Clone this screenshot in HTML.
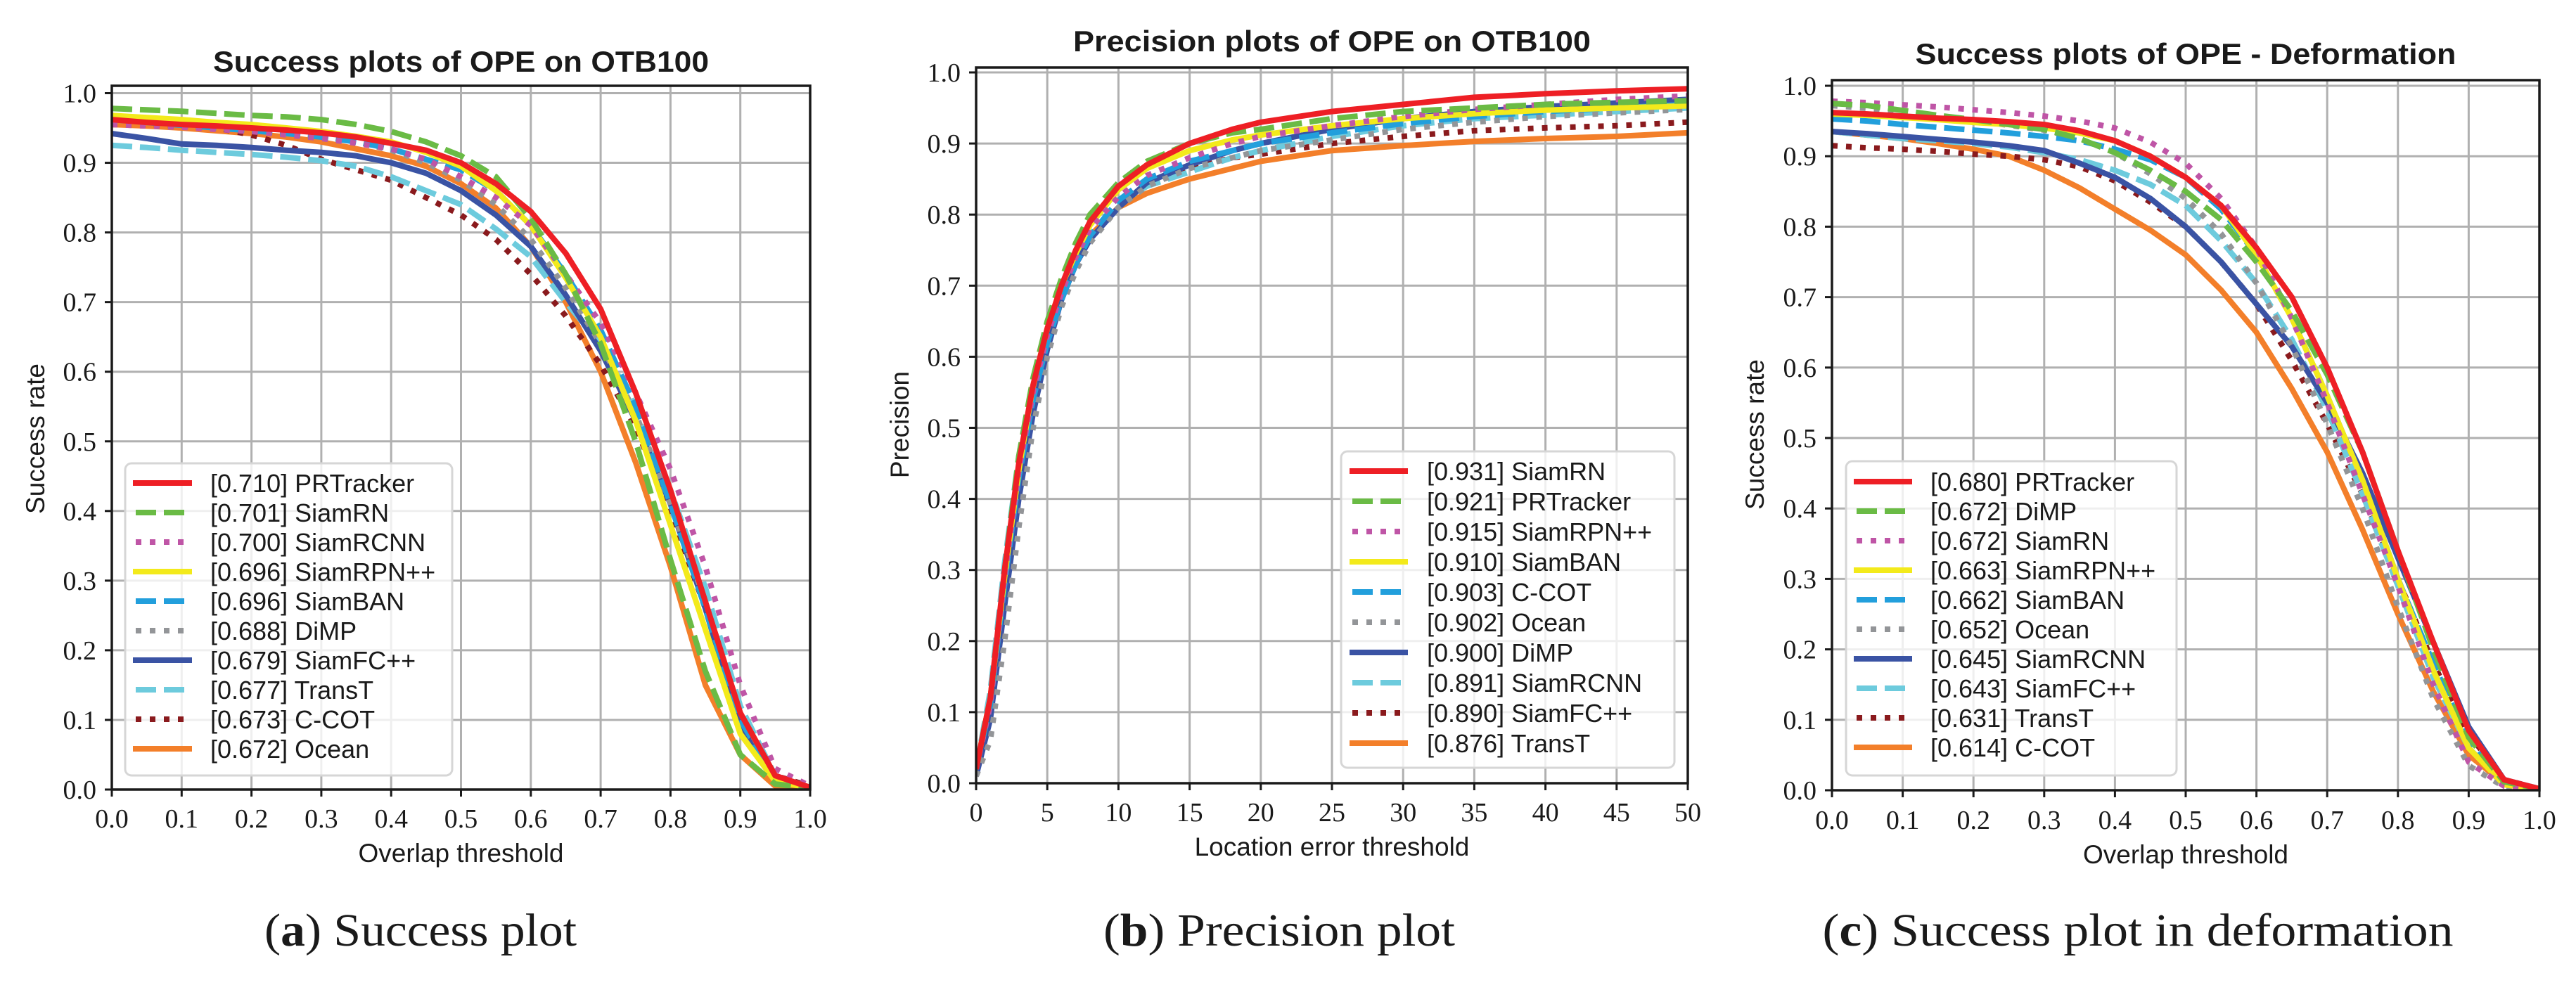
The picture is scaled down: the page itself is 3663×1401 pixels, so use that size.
<!DOCTYPE html>
<html><head><meta charset="utf-8">
<style>
html,body{margin:0;padding:0;background:#fff;}
svg{display:block;}
.t{font-family:"Liberation Sans",sans-serif;fill:#1a1a1a;}
.s{font-family:"Liberation Serif",serif;fill:#1a1a1a;}
</style></head>
<body>
<svg id="chart" width="3663" height="1401" viewBox="0 0 3663 1401" xmlns="http://www.w3.org/2000/svg"></svg>
<script>
// ---------- data ----------
const xSucc = [0,0.05,0.1,0.15,0.2,0.25,0.3,0.35,0.4,0.45,0.5,0.55,0.6,0.65,0.7,0.75,0.8,0.85,0.9,0.95,1.0];
const xPrec = [0,1,2,3,4,5,6,7,8,10,12,15,18,20,25,30,35,40,45,50];

const namesA = ["[0.710] PRTracker","[0.701] SiamRN","[0.700] SiamRCNN","[0.696] SiamRPN++","[0.696] SiamBAN","[0.688] DiMP","[0.679] SiamFC++","[0.677] TransT","[0.673] C-COT","[0.672] Ocean"];
const a0 = [0.962,0.958,0.955,0.953,0.950,0.947,0.943,0.937,0.928,0.918,0.900,0.870,0.830,0.770,0.690,0.570,0.430,0.270,0.110,0.020,0.003];
const a1 = [0.978,0.976,0.974,0.971,0.968,0.966,0.962,0.955,0.945,0.930,0.910,0.880,0.820,0.740,0.640,0.500,0.330,0.170,0.050,0.008,0.002];
const a2 = [0.955,0.953,0.951,0.948,0.945,0.940,0.935,0.928,0.920,0.905,0.880,0.850,0.810,0.740,0.670,0.570,0.460,0.320,0.150,0.030,0.005];
const a3 = [0.968,0.965,0.962,0.958,0.955,0.950,0.945,0.938,0.930,0.915,0.895,0.860,0.810,0.735,0.650,0.530,0.380,0.230,0.080,0.012,0.002];
const a4 = [0.962,0.958,0.954,0.950,0.946,0.942,0.937,0.930,0.920,0.905,0.890,0.860,0.810,0.740,0.660,0.550,0.410,0.260,0.100,0.015,0.002];
const a5 = [0.965,0.962,0.958,0.954,0.950,0.945,0.938,0.930,0.918,0.900,0.875,0.840,0.790,0.720,0.640,0.540,0.410,0.270,0.110,0.018,0.003];
const a6 = [0.942,0.935,0.927,0.925,0.922,0.918,0.915,0.910,0.900,0.885,0.860,0.825,0.780,0.710,0.630,0.530,0.410,0.260,0.090,0.012,0.002];
const a7 = [0.925,0.922,0.918,0.915,0.912,0.908,0.903,0.895,0.880,0.860,0.840,0.805,0.765,0.700,0.640,0.550,0.430,0.290,0.120,0.020,0.003];
const a8 = [0.955,0.955,0.953,0.950,0.940,0.925,0.905,0.890,0.875,0.850,0.825,0.790,0.740,0.680,0.610,0.520,0.400,0.260,0.100,0.020,0.005];
const a9 = [0.955,0.953,0.950,0.946,0.942,0.937,0.930,0.920,0.910,0.895,0.870,0.835,0.780,0.700,0.600,0.470,0.320,0.150,0.050,0.005,0.002];

const namesB = ["[0.931] SiamRN","[0.921] PRTracker","[0.915] SiamRPN++","[0.910] SiamBAN","[0.903] C-COT","[0.902] Ocean","[0.900] DiMP","[0.891] SiamRCNN","[0.890] SiamFC++","[0.876] TransT"];
const b0 = [0.02,0.12,0.30,0.45,0.56,0.64,0.70,0.75,0.79,0.84,0.87,0.90,0.92,0.93,0.945,0.955,0.965,0.970,0.974,0.977];
const b1 = [0.02,0.12,0.30,0.46,0.57,0.65,0.71,0.76,0.80,0.845,0.875,0.90,0.915,0.92,0.935,0.945,0.950,0.955,0.958,0.960];
const b2 = [0.02,0.11,0.29,0.44,0.55,0.63,0.69,0.74,0.78,0.825,0.855,0.88,0.90,0.91,0.925,0.938,0.948,0.955,0.962,0.967];
const b3 = [0.02,0.12,0.29,0.44,0.56,0.64,0.70,0.745,0.785,0.835,0.865,0.89,0.905,0.912,0.925,0.935,0.942,0.947,0.950,0.953];
const b4 = [0.02,0.11,0.28,0.43,0.54,0.62,0.68,0.73,0.77,0.82,0.85,0.875,0.89,0.90,0.915,0.928,0.938,0.945,0.950,0.955];
const b5 = [0.01,0.06,0.20,0.36,0.50,0.60,0.67,0.72,0.76,0.81,0.84,0.865,0.88,0.89,0.905,0.92,0.93,0.938,0.943,0.948];
const b6 = [0.01,0.09,0.25,0.40,0.52,0.61,0.68,0.73,0.765,0.81,0.845,0.87,0.89,0.90,0.92,0.935,0.945,0.952,0.957,0.962];
const b7 = [0.02,0.13,0.31,0.46,0.56,0.635,0.69,0.735,0.77,0.815,0.84,0.86,0.88,0.89,0.91,0.925,0.935,0.940,0.945,0.950];
const b8 = [0.02,0.11,0.28,0.43,0.54,0.62,0.68,0.73,0.77,0.815,0.845,0.865,0.88,0.885,0.90,0.91,0.918,0.922,0.925,0.930];
const b9 = [0.02,0.12,0.29,0.44,0.55,0.63,0.69,0.735,0.77,0.81,0.83,0.85,0.865,0.875,0.89,0.897,0.903,0.907,0.910,0.915];

const namesC = ["[0.680] PRTracker","[0.672] DiMP","[0.672] SiamRN","[0.663] SiamRPN++","[0.662] SiamBAN","[0.652] Ocean","[0.645] SiamRCNN","[0.643] SiamFC++","[0.631] TransT","[0.614] C-COT"];
const c0 = [0.962,0.960,0.957,0.954,0.952,0.949,0.945,0.936,0.922,0.900,0.870,0.830,0.770,0.700,0.600,0.480,0.340,0.210,0.085,0.015,0.002];
const c1 = [0.975,0.972,0.965,0.958,0.952,0.945,0.938,0.925,0.905,0.880,0.850,0.810,0.750,0.680,0.590,0.480,0.340,0.200,0.075,0.012,0.002];
const c2 = [0.978,0.976,0.973,0.970,0.966,0.962,0.957,0.950,0.940,0.920,0.890,0.840,0.770,0.670,0.550,0.420,0.290,0.150,0.040,0.006,0.001];
const c3 = [0.960,0.958,0.955,0.952,0.948,0.945,0.940,0.933,0.922,0.900,0.870,0.830,0.760,0.670,0.560,0.440,0.300,0.170,0.060,0.008,0.001];
const c4 = [0.953,0.950,0.945,0.941,0.937,0.933,0.928,0.922,0.910,0.895,0.870,0.825,0.760,0.670,0.560,0.440,0.300,0.180,0.070,0.010,0.001];
const c5 = [0.972,0.968,0.962,0.956,0.950,0.944,0.937,0.925,0.905,0.875,0.840,0.790,0.720,0.630,0.520,0.400,0.260,0.130,0.035,0.005,0.001];
const c6 = [0.935,0.932,0.928,0.924,0.920,0.915,0.908,0.890,0.870,0.840,0.800,0.750,0.690,0.630,0.550,0.450,0.330,0.210,0.090,0.015,0.002];
const c7 = [0.935,0.930,0.925,0.922,0.918,0.913,0.905,0.895,0.880,0.860,0.830,0.780,0.720,0.640,0.540,0.420,0.290,0.160,0.060,0.010,0.001];
const c8 = [0.915,0.912,0.910,0.907,0.903,0.900,0.895,0.885,0.865,0.835,0.800,0.750,0.690,0.610,0.520,0.420,0.300,0.180,0.080,0.015,0.002];
const c9 = [0.935,0.930,0.925,0.918,0.910,0.900,0.880,0.855,0.825,0.795,0.760,0.710,0.650,0.570,0.480,0.370,0.250,0.140,0.050,0.010,0.002];

const yTicks = [0,0.1,0.2,0.3,0.4,0.5,0.6,0.7,0.8,0.9,1.0];
const xTicksSucc = [0,0.1,0.2,0.3,0.4,0.5,0.6,0.7,0.8,0.9,1.0];
const xTicksPrec = [0,5,10,15,20,25,30,35,40,45,50];

// ---------- styles ----------
const COL = ["#ee1f25","#6abb45","#bf55a6","#f3ea1b","#229fdc","#939598","#3a53a4","#6dcbdd","#8a1a1d","#f37f2a"];
const DASH = ["none","29 11","8 12","none","29 11","8 12","none","29 11","8 12","none"];

const NS = "http://www.w3.org/2000/svg";
const svg = document.getElementById("chart");
function el(tag, attrs, parent){
  const e = document.createElementNS(NS, tag);
  for (const k in attrs) e.setAttribute(k, attrs[k]);
  (parent||svg).appendChild(e);
  return e;
}

function panel(cfg){
  const g = el("g", {});
  
  
  const X = v => cfg.x0 + (v - cfg.xmin)/(cfg.xmax - cfg.xmin)*(cfg.x1 - cfg.x0);
  const Y = v => cfg.y0 - v*(cfg.y0 - cfg.y1);
  const top = cfg.boxTop;
  // grid
  cfg.xticks.forEach(t=>{
    const l = el("line",{x1:X(t),x2:X(t),y1:top,y2:cfg.y0,stroke:"#b0b0b0","stroke-width":3},g);
    
    
  });
  yTicks.forEach(t=>{
    const l = el("line",{x1:cfg.x0,x2:cfg.x1,y1:Y(t),y2:Y(t),stroke:"#b0b0b0","stroke-width":3},g);
    
    
  });
  // series (drawn last in legend order reversed so first appears on top)
  const clip = "clip-"+cfg.id;
  const cp = el("clipPath",{id:clip},g);
  el("rect",{x:cfg.x0,y:top,width:cfg.x1-cfg.x0,height:cfg.y0-top},cp);
  for (let i = cfg.series.length-1; i>=0; i--){
    const d = cfg.series[i].map((v,j)=>(j?"L":"M")+X(cfg.xs[j]).toFixed(1)+","+Y(v).toFixed(1)).join(" ");
    const p = el("path",{d:d,fill:"none",stroke:COL[i],"stroke-width":8,"stroke-linejoin":"round","clip-path":"url(#"+clip+")"},g);
    if (DASH[i]!=="none") p.setAttribute("stroke-dasharray",DASH[i]);
    
    
  }
  // spine
  const sp = el("rect",{x:cfg.x0,y:top,width:cfg.x1-cfg.x0,height:cfg.y0-top,fill:"none",stroke:"#1a1a1a","stroke-width":3.5},g);
  
  
  // ticks
  cfg.xticks.forEach((t,i)=>{
    el("line",{x1:X(t),x2:X(t),y1:cfg.y0,y2:cfg.y0+10,stroke:"#1a1a1a","stroke-width":3},g);
    const tx = el("text",{x:X(t),y:cfg.tickY,"text-anchor":"middle","font-size":38,class:"s"},g);
    tx.textContent = cfg.xlabels[i];
    
    
  });
  yTicks.forEach(t=>{
    el("line",{x1:cfg.x0-10,x2:cfg.x0,y1:Y(t),y2:Y(t),stroke:"#1a1a1a","stroke-width":3},g);
    const tx = el("text",{x:cfg.x0-22,y:Y(t)+13,"text-anchor":"end","font-size":38,class:"s"},g);
    tx.textContent = t.toFixed(1);
    
    
  });
  // title
  const ti = el("text",{x:(cfg.x0+cfg.x1)/2,y:cfg.titleY+15,"text-anchor":"middle","font-size":42,"font-weight":"bold",class:"t",textLength:cfg.titleW,lengthAdjust:"spacingAndGlyphs"},g);
  ti.textContent = cfg.title;
  
  
  // axis labels
  const xl = el("text",{x:(cfg.x0+cfg.x1)/2,y:cfg.xlabY+13,"text-anchor":"middle","font-size":37,class:"t"},g);
  xl.textContent = cfg.xlab;
  
  
  const yl = el("text",{x:0,y:0,"text-anchor":"middle","font-size":37,class:"t",transform:"translate("+(cfg.ylabX+13)+","+cfg.ylabY+") rotate(-90)"},g);
  yl.textContent = cfg.ylab;
  
  
  // legend
  const L = cfg.leg;
  const lg = el("g",{},g);
  
  
  el("rect",{x:L.x,y:L.y,width:L.w,height:L.h,rx:9,fill:"#fff","fill-opacity":0.8,stroke:"#d6d6d6","stroke-width":3},lg);
  cfg.names.forEach((n,i)=>{
    const yy = L.row0 + i*L.dy;
    const ln = el("line",{x1:L.lx0,x2:L.lx1,y1:yy,y2:yy,stroke:COL[i],"stroke-width":8},lg);
    if (DASH[i]!=="none"){ ln.setAttribute("stroke-dasharray",DASH[i]); ln.setAttribute("x1",L.lx0+4); }
    
    
    const tx = el("text",{x:L.tx,y:yy+13,"font-size":36,class:"t"},lg);
    tx.textContent = n;
    
    
  });
  // caption
  const cap = el("text",{x:cfg.capX,y:cfg.capY+22,"text-anchor":"middle","font-size":66,class:"s",textLength:cfg.capW,lengthAdjust:"spacingAndGlyphs"},g);
  const b = document.createElementNS(NS,"tspan"); b.setAttribute("font-weight","bold"); b.textContent = cfg.capB;
  cap.appendChild(document.createTextNode("("));
  cap.appendChild(b);
  cap.appendChild(document.createTextNode(") "+cfg.cap));
  
  
}

panel({id:"success-plot",x0:159,x1:1152,y0:1123,y1:132.5,boxTop:122,xmin:0,xmax:1,xs:xSucc,
  series:[a0,a1,a2,a3,a4,a5,a6,a7,a8,a9],names:namesA,xticks:xTicksSucc,xlabels:xTicksSucc.map(v=>v.toFixed(1)),
  tickY:1177,title:"Success plots of OPE on OTB100",titleY:87,titleW:705,xlab:"Overlap threshold",xlabY:1213,
  ylab:"Success rate",ylabX:50,ylabY:624,
  leg:{x:178,y:659,w:465,h:444,row0:687,dy:42,lx0:189,lx1:273,tx:299},
  capX:598,capY:1323,capW:444,capB:"a",cap:"Success plot"});

panel({id:"precision-plot",x0:1388,x1:2400,y0:1114,y1:103,boxTop:96,xmin:0,xmax:50,xs:xPrec,
  series:[b0,b1,b2,b3,b4,b5,b6,b7,b8,b9],names:namesB,xticks:xTicksPrec,xlabels:xTicksPrec.map(String),
  tickY:1168,title:"Precision plots of OPE on OTB100",titleY:58,titleW:736,xlab:"Location error threshold",xlabY:1204,
  ylab:"Precision",ylabX:1279,ylabY:604,
  leg:{x:1907,y:642,w:474,h:450,row0:670,dy:43,lx0:1919,lx1:2002,tx:2029},
  capX:1819,capY:1323,capW:500,capB:"b",cap:"Precision plot"});

panel({id:"deformation-plot",x0:2605,x1:3611,y0:1124,y1:122,boxTop:114,xmin:0,xmax:1,xs:xSucc,
  series:[c0,c1,c2,c3,c4,c5,c6,c7,c8,c9],names:namesC,xticks:xTicksSucc,xlabels:xTicksSucc.map(v=>v.toFixed(1)),
  tickY:1179,title:"Success plots of OPE - Deformation",titleY:76,titleW:769,xlab:"Overlap threshold",xlabY:1215,
  ylab:"Success rate",ylabX:2495,ylabY:618,
  leg:{x:2625,y:656,w:470,h:447,row0:685,dy:42,lx0:2636,lx1:2719,tx:2745},
  capX:3040,capY:1323,capW:897,capB:"c",cap:"Success plot in deformation"});
</script>
</body></html>
